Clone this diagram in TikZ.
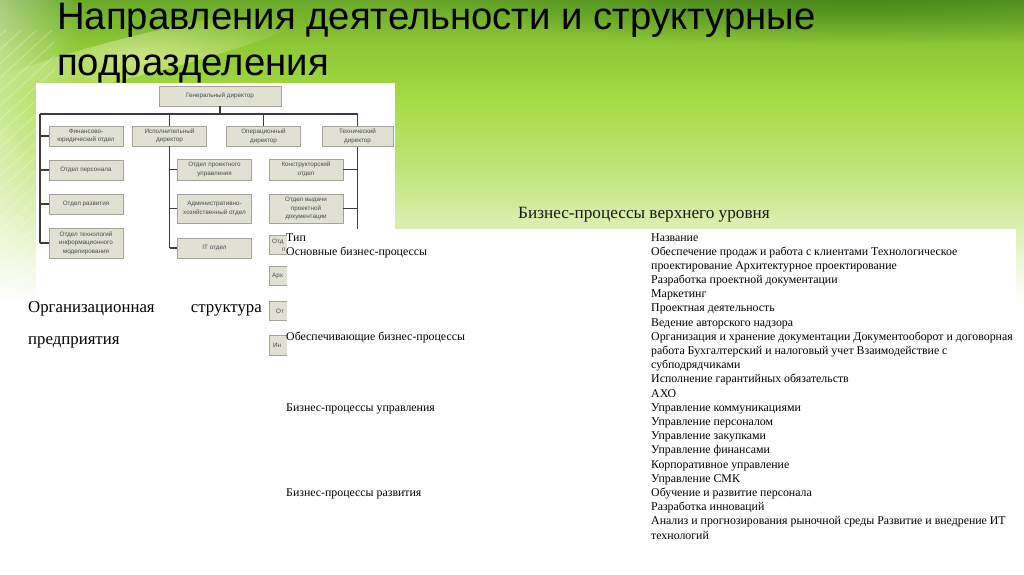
\documentclass[tikz,border=0pt]{standalone}
\usepackage{fontspec}
\setmainfont{Liberation Serif}
\newfontfamily\arialf{Liberation Sans}
\usetikzlibrary{fadings}
\tikzfading[name=myglow, inner color=transparent!0, outer color=transparent!100]
\definecolor{g0}{HTML}{6AA82A}
\definecolor{g1}{HTML}{8DC836}
\definecolor{g2}{HTML}{A5DB45}
\definecolor{g3}{HTML}{BFE57A}
\definecolor{g4}{HTML}{DDF0B5}
\definecolor{darkg}{HTML}{3A7A16}
\definecolor{boxfill}{HTML}{E0E1D3}
\definecolor{boxdraw}{HTML}{A3A39A}
\definecolor{orgtext}{HTML}{4A4A4A}
\definecolor{orgline}{HTML}{3C3C3C}
\newcommand\orgf{\arialf\fontsize{6.3}{8.6}\selectfont}
\tikzset{
  ocbox/.style={draw=boxdraw, fill=boxfill, line width=0.8pt, minimum width=74, minimum height=20,
    inner sep=0pt, font=\orgf, text=orgtext, align=center},
  orgtxt/.style={font=\orgf, text=orgtext, inner sep=0pt},
  link/.style={draw=orgline, line width=1.3pt},
  titletxt/.style={font=\arialf\fontsize{38.3}{46}\selectfont, text=black, inner sep=0pt, anchor=base west},
  captxt/.style={font=\fontsize{16.8}{20}\selectfont, text=black, inner sep=0pt},
  tabhead/.style={font=\fontsize{17.2}{20}\selectfont, text=black!90, inner sep=0pt},
  tabtxt/.style={font=\fontsize{11.85}{14}\selectfont, text=black, inner sep=0pt, anchor=base west}
}
\begin{document}
\begin{tikzpicture}[x=1pt,y=-1pt]
\useasboundingbox (0,0) rectangle (1024,574);
% background
\fill[white] (0,0) rectangle (1024,574);
\shade[top color=g0, bottom color=g1] (0,0) rectangle (1024,45);
\shade[top color=g1, bottom color=g2] (0,45) rectangle (1024,100);
\shade[top color=g2, bottom color=g3] (0,100) rectangle (1024,170);
\shade[top color=g3, bottom color=g4] (0,170) rectangle (1024,230);
\shade[top color=g4, bottom color=white] (0,230) rectangle (1024,300);
\fill[darkg, opacity=0.8, path fading=myglow] (860,-10) ellipse [x radius=480, y radius=55];
\fill[yellow!20!white, opacity=0.5, path fading=myglow, rotate around={14:(140,55)}] (140,55) ellipse [x radius=180, y radius=20];
\fill[white, opacity=0.4, path fading=east] (0,0) rectangle (80,300);
\begin{scope}
  \clip (0,30) rectangle (55,290);
  \foreach \k in {0,...,22} \draw[white, line width=1.4pt, opacity=0.22] (-20,320-\k*14) -- (100,210-\k*14);
\end{scope}
% title
\node[titletxt] (t1) at (57,29.5) {Направления деятельности и структурные};
\node[titletxt] (t2) at (57,75) {подразделения};
% org chart image
\fill[white] (36,83) rectangle (395,365);
\coordinate (busL) at (40,114);
\coordinate (busR) at (357.5,114);
\node[ocbox, minimum width=122] (gd) at (220,96) {Генеральный директор};
\node[ocbox] (fin) at (86,136) {Финансово-\\юридический отдел};
\node[ocbox] (isp) at (169.5,136) {Исполнительный\\директор};
\node[ocbox] (oper) at (263.5,136.5) {Операционный\\директор};
\node[ocbox, minimum width=71] (tech) at (357.5,136.5) {Технический\\директор};
\node[ocbox] (pers) at (86,170) {Отдел персонала};
\node[ocbox] (razv) at (86,204) {Отдел развития};
\node[ocbox, minimum height=30] (itm) at (86,243) {Отдел технологий\\информационного\\моделирования};
\node[ocbox, minimum height=21] (proj) at (214.5,169.5) {Отдел проектного\\управления};
\node[ocbox, minimum height=29] (adm) at (214.5,208.5) {Административно-\\хозяйственный отдел};
\node[ocbox] (it) at (214.5,248) {IT отдел};
\node[ocbox, minimum height=21] (kons) at (306,169.5) {Конструкторский\\отдел};
\node[ocbox, minimum height=29] (vyd) at (306,208.5) {Отдел выдачи\\проектной\\документации};
\node[ocbox, minimum height=19] (f1) at (306,245) {};
\node[ocbox, minimum height=19] (f2) at (306,276) {};
\node[ocbox, minimum height=19] (f3) at (306,311) {};
\node[ocbox, minimum height=20] (f4) at (306,345) {};
\node[orgtxt, anchor=west] (f1a) at (272,241.5) {Отд};
\node[orgtxt, anchor=west] (f1b) at (282,249.5) {п};
\node[orgtxt, anchor=west] (f2a) at (272,276) {Арх};
\node[orgtxt, anchor=west] (f3a) at (276,311) {От};
\node[orgtxt, anchor=west] (f4a) at (273,345) {Ин};
% connectors
\draw[link] (gd.south) -- (gd.south |- busL);
\draw[link] (busL) -- (busR);
\draw[link] (isp.north) -- (isp.north |- busL);
\draw[link] (oper.north) -- (oper.north |- busL);
\draw[link] (tech.north) -- (busR);
\draw[link] (busL) -- (busL |- itm.west);
\foreach \b in {fin,pers,razv,itm} \draw[link] (\b.west) -- (\b.west -| busL);
\draw[link] (isp.south) -- (isp.south |- it.west);
\foreach \b in {proj,adm,it} \draw[link] (\b.west) -- (\b.west -| isp.south);
\draw[link] (tech.south) -- (tech.south |- f4.east);
\foreach \b in {kons,vyd} \draw[link] (\b.east) -- (\b.east -| tech.south);
% caption
\node[captxt, anchor=base west] (c1) at (28,312.5) {Организационная};
\node[captxt, anchor=base east] (c2) at (262,312.5) {структура};
\node[captxt, anchor=base west] (c3) at (28,344) {предприятия};
% table
\node[tabhead, anchor=base west] (tt) at (518,218) {Бизнес-процессы верхнего уровня};
\fill[white] (287,229) rectangle (1016,552);
\foreach \t [count=\i] in {Название,
  Обеспечение продаж и работа с клиентами Технологическое,
  проектирование Архитектурное проектирование,
  Разработка проектной документации,
  Маркетинг,
  Проектная деятельность,
  Ведение авторского надзора,
  Организация и хранение документации Документооборот и договорная,
  работа Бухгалтерский и налоговый учет Взаимодействие с,
  субподрядчиками,
  Исполнение гарантийных обязательств,
  АХО,
  Управление коммуникациями,
  Управление персоналом,
  Управление закупками,
  Управление финансами,
  Корпоративное управление,
  Управление СМК,
  Обучение и развитие персонала,
  Разработка инноваций,
  Анализ и прогнозирования рыночной среды Развитие и внедрение ИТ,
  технологий}
  \node[tabtxt] (r\i) at (651,241+\i*14.19-14.19) {\t};
\node[tabtxt] (l1) at (286,241) {Тип};
\node[tabtxt] (l2) at (286,255.19) {Основные бизнес-процессы};
\node[tabtxt] (l8) at (286,340.33) {Обеспечивающие бизнес-процессы};
\node[tabtxt] (l13) at (286,411.28) {Бизнес-процессы управления};
\node[tabtxt] (l19) at (286,496.42) {Бизнес-процессы развития};
\end{tikzpicture}
\end{document}
